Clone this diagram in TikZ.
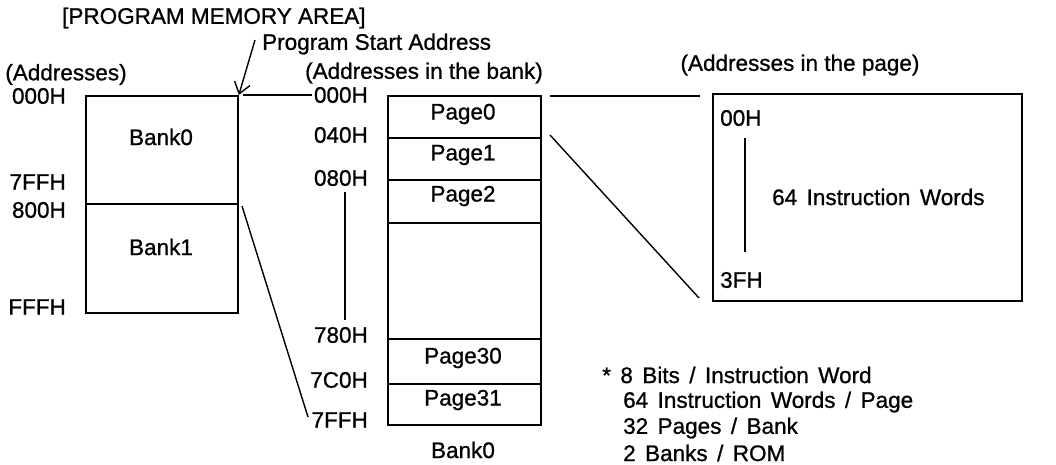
\documentclass[tikz,border=0pt]{standalone}
\usepackage{fontspec}
\setmainfont{Liberation Sans}[FakeBold=0.9]
\usetikzlibrary{arrows.meta}
\newcommand\gapw{\hspace{0.42em}}
\begin{document}
\begin{tikzpicture}[x=1pt,y=-1pt,
  every node/.style={font=\fontsize{22.5}{26}\selectfont, inner sep=0pt},
  memline/.style={line width=1.8pt},
  conn/.style={line width=1.4pt},
  blk/.style={draw, line width=1.8pt, rectangle, anchor=north west},
  lbl/.style={anchor=east}]
\useasboundingbox (0,0) rectangle (1056,465);

% header
\node[anchor=west] (hdr) at (62,18) {[PROGRAM MEMORY AREA]};
\node[anchor=west] (psa) at (262,44) {Program Start Address};

% ---- left: banks
\node (addrL) at (66,74.5) {(Addresses)};
\node[blk, minimum width=152pt, minimum height=108pt] (bank0) at (85,95) {};
\node[blk, minimum width=152pt, minimum height=109pt] (bank1) at (85,203) {};
\node at (161,137) {Bank0};
\node at (161,247) {Bank1};
\node[lbl] (l000) at (66,96) {000H};
\node[lbl] (l7ff) at (66,182) {7FFH};
\node[lbl] (l800) at (66,210) {800H};
\node[lbl] (lfff) at (66,307) {FFFH};

\coordinate (psaTail) at (255,40);
\draw[conn, -{Straight Barb[length=11pt,width=16pt,line width=1.4pt]}] (psaTail) -- (bank0.north east);

% ---- middle: pages
\node (addrM) at (424,73) {(Addresses in the bank)};
\node[blk, minimum width=153pt, minimum height=42pt] (p0) at (387,95) {};
\node[blk, minimum width=153pt, minimum height=42pt] (p1) at (387,137) {};
\node[blk, minimum width=153pt, minimum height=43pt] (p2) at (387,179) {};
\node[blk, minimum width=153pt, minimum height=116pt] (pmid) at (387,222) {};
\node[blk, minimum width=153pt, minimum height=45pt] (p30) at (387,338) {};
\node[blk, minimum width=153pt, minimum height=41pt] (p31) at (387,383) {};
\node at (463,114) {Page0};
\node at (463,155) {Page1};
\node at (463,196) {Page2};
\node at (463,358) {Page30};
\node at (463,400) {Page31};
\node (bankM) at (463,450) {Bank0};

\node[lbl] (m000) at (368,95) {000H};
\node[lbl] (m040) at (368,135) {040H};
\node[lbl] (m080) at (368,178) {080H};
\node[lbl] (m780) at (368,335) {780H};
\node[lbl] (m7c0) at (368,380) {7C0H};
\node[lbl] (m7ff) at (368,420) {7FFH};
\coordinate (vtop) at (345,192);
\coordinate (vbot) at (345,320);
\draw[line width=1.2pt] (vtop) -- (vbot);

% bank zoom connectors
\coordinate (a1) at (243,95);
\coordinate (a2) at (312,95);
\draw[memline] (a1) -- (a2);
\coordinate (b1) at (242,206);
\coordinate (b2) at (308,417);
\draw[conn] (b1) -- (b2);

% ---- right: page
\node (addrR) at (800,65) {(Addresses in the page)};
\node[blk, minimum width=309pt, minimum height=207pt] (page) at (712,93) {};
\node[anchor=west] (r00) at (720,118) {00H};
\node[anchor=west] (r3f) at (720,280) {3FH};
\coordinate (rtop) at (745,138);
\coordinate (rbot) at (745,252);
\draw[line width=1.2pt] (rtop) -- (rbot);
\node[anchor=west] (words) at (772,197) {64\gapw Instruction\gapw Words};

\coordinate (c1) at (550,96);
\coordinate (c2) at (700,96);
\draw[memline] (c1) -- (c2);
\coordinate (d1) at (550,135);
\coordinate (d2) at (699,298);
\draw[conn] (d1) -- (d2);

% ---- notes
\node[anchor=west] (n1) at (602,375) {*\gapw 8\gapw Bits\gapw /\gapw Instruction\gapw Word};
\node[anchor=west] (n2) at (623,402) {64\gapw Instruction\gapw Words\gapw /\gapw Page};
\node[anchor=west] (n3) at (623,428) {32\gapw Pages\gapw /\gapw Bank};
\node[anchor=west] (n4) at (623,453) {2\gapw Banks\gapw /\gapw ROM};
\end{tikzpicture}
\end{document}
